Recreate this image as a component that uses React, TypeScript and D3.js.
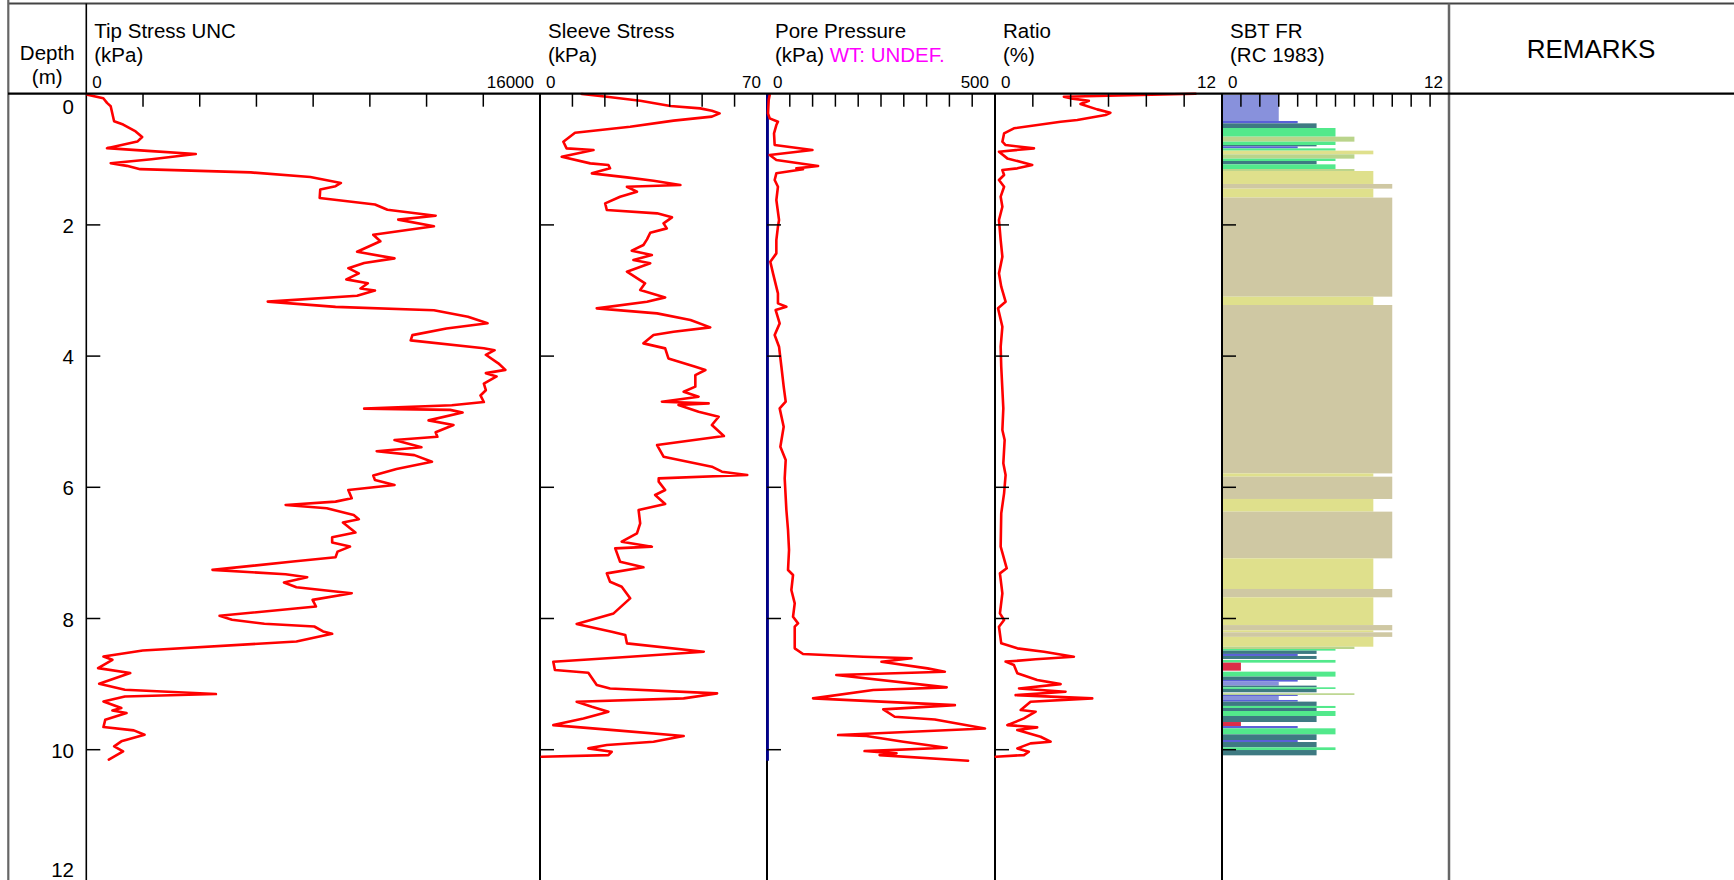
import React from "react";
import * as d3 from "d3";

// ---------- data (depth m, value) ----------
const tipStress: [number, number][] = [
  [0.015, 40], [0.07, 600], [0.14, 730], [0.19, 860], [0.42, 980], [0.47, 1300], [0.575, 1740],
  [0.66, 1970], [0.73, 1800], [0.83, 730], [0.875, 2300], [0.92, 3860], [1.0, 2300], [1.06, 860],
  [1.1, 1430], [1.15, 1900], [1.2, 5800], [1.27, 7900], [1.36, 8980], [1.41, 8790], [1.46, 8250],
  [1.59, 8230], [1.69, 10180], [1.77, 10620], [1.86, 12320], [1.92, 11000], [2.02, 12260],
  [2.15, 10120], [2.25, 10370], [2.41, 9550], [2.51, 10870], [2.58, 9800], [2.66, 9240],
  [2.74, 9610], [2.83, 9170], [2.89, 9930], [2.97, 9670], [3.0, 10180], [3.08, 9550], [3.17, 6400],
  [3.25, 8790], [3.3, 12260], [3.4, 13460], [3.5, 14150], [3.58, 12700], [3.68, 11500],
  [3.76, 11440], [3.88, 14020], [3.91, 14400], [3.98, 14090], [4.11, 14530], [4.21, 14780],
  [4.26, 14090], [4.31, 14470], [4.42, 14020], [4.52, 14090], [4.6, 13900], [4.7, 14020],
  [4.75, 12890], [4.8, 9800], [4.82, 12830], [4.86, 13270], [4.98, 12070], [5.05, 12950],
  [5.16, 12320], [5.23, 12380], [5.28, 10870], [5.39, 11820], [5.45, 10240], [5.51, 11570],
  [5.61, 12190], [5.72, 10940], [5.82, 10120], [5.89, 10180], [5.965, 10870], [6.04, 9240],
  [6.168, 9360], [6.218, 8790], [6.269, 7030], [6.32, 8480], [6.421, 9430], [6.487, 9610],
  [6.538, 9050], [6.69, 9490], [6.761, 8670], [6.843, 8670], [6.904, 9300], [6.98, 8860],
  [7.066, 8790], [7.132, 7290], [7.259, 4450], [7.325, 7030], [7.37, 7790], [7.452, 6970],
  [7.523, 7410], [7.614, 9360], [7.716, 7980], [7.817, 8100], [7.959, 4700], [8.02, 5140],
  [8.081, 6280], [8.122, 8040], [8.198, 8350], [8.234, 8670], [8.35, 7410], [8.487, 1990],
  [8.579, 605], [8.629, 920], [8.756, 416], [8.832, 1550], [8.995, 454], [9.086, 1360],
  [9.152, 4570], [9.188, 1360], [9.264, 605], [9.365, 1235], [9.401, 920], [9.442, 1420],
  [9.543, 668], [9.655, 605], [9.706, 1676], [9.772, 2054], [9.873, 1235], [9.949, 983],
  [10.025, 1298], [10.152, 794],
];

const sleeveStress: [number, number][] = [
  [0.005, 12.9], [0.046, 20.6], [0.107, 30.9], [0.188, 40.2], [0.224, 49.4], [0.259, 53],
  [0.3, 55.4], [0.35, 53], [0.41, 41.2], [0.503, 27.8], [0.595, 10.8], [0.732, 7.2], [0.833, 8.2],
  [0.859, 16.5], [0.96, 6.7], [1.062, 15.5], [1.087, 21.1], [1.138, 21.6], [1.214, 16],
  [1.275, 26.8], [1.326, 35], [1.392, 43.3], [1.418, 26.8], [1.494, 29.9], [1.57, 24.7],
  [1.672, 20.1], [1.773, 20.6], [1.824, 36.1], [1.885, 40.7], [1.977, 38.1], [2.053, 39.1],
  [2.119, 34], [2.22, 33], [2.307, 31.9], [2.393, 28.3], [2.459, 34.5], [2.535, 28.8],
  [2.586, 34], [2.713, 26.8], [2.891, 32.4], [2.993, 30.9], [3.105, 38.6], [3.171, 33],
  [3.272, 17.5], [3.349, 36.1], [3.45, 46.4], [3.562, 52.5], [3.628, 41.2], [3.679, 35],
  [3.806, 31.9], [3.882, 38.6], [4.035, 39.6], [4.162, 47.9], [4.212, 51], [4.289, 47.9],
  [4.466, 47.9], [4.543, 44.3], [4.619, 48.9], [4.695, 37.6], [4.72, 52], [4.746, 42.7],
  [4.848, 48.9], [4.924, 55.1], [5.051, 53], [5.219, 56.7], [5.356, 36.1], [5.534, 38.1],
  [5.686, 53], [5.762, 56.1], [5.813, 63.9], [5.864, 36.6], [5.914, 36.6], [6.041, 38.6],
  [6.117, 35.5], [6.254, 38.6], [6.346, 30.4], [6.549, 30.9], [6.702, 29.9], [6.829, 25.2],
  [6.905, 34.5], [6.931, 23.2], [7.134, 24.7], [7.22, 31.9], [7.312, 20.6], [7.439, 21.6],
  [7.515, 25.2], [7.693, 27.8], [7.922, 22.7], [8.084, 11.3], [8.201, 22.1], [8.252, 26.3],
  [8.379, 26.8], [8.506, 50.5], [8.582, 27.8], [8.659, 4.1], [8.786, 4.6], [8.827, 14.9],
  [9.015, 17.5], [9.066, 21.6], [9.142, 54.6], [9.218, 44.3], [9.269, 11.3], [9.345, 16],
  [9.421, 21.1], [9.523, 13.4], [9.625, 4.1], [9.701, 22.7], [9.792, 44.3], [9.879, 35],
  [9.929, 20.6], [9.98, 14.9], [10.031, 22.1], [10.082, 21.1], [10.107, 0.5],
];

const porePressure: [number, number][] = [
  [0.02, 5.9], [0.097, 3.7], [0.3, 2.2], [0.376, 5.9], [0.427, 24], [0.478, 20.5], [0.605, 15.4],
  [0.782, 16.8], [0.859, 99.6], [0.935, 5.9], [1.011, 20.5], [1.103, 112], [1.138, 64.4],
  [1.153, 79], [1.214, 20.5], [1.316, 16.8], [1.418, 24], [1.621, 20.5], [1.926, 26.4],
  [2.027, 24], [2.231, 20.5], [2.434, 20.5], [2.561, 7.3], [2.739, 13.2], [3.044, 24],
  [3.196, 24], [3.247, 42.5], [3.298, 19], [3.501, 27.8], [3.679, 16.8], [3.857, 26.4],
  [4.162, 31.6], [4.466, 36.6], [4.695, 41], [4.797, 27.8], [5.076, 36.6], [5.381, 29.3],
  [5.584, 41], [5.864, 38.8], [6.346, 42.5], [6.651, 46.1], [6.956, 48.3], [7.261, 46.1],
  [7.337, 57.1], [7.566, 53.4], [7.769, 60.8], [7.972, 57.1], [8.074, 68.1], [8.125, 60.8],
  [8.455, 60.8], [8.541, 79], [8.582, 211], [8.607, 317], [8.659, 251], [8.76, 352],
  [8.811, 390], [8.862, 152], [9.05, 394], [9.09, 233], [9.218, 101], [9.32, 412], [9.386, 255],
  [9.498, 280], [9.539, 368], [9.676, 478], [9.777, 156], [9.79, 218], [9.879, 299], [9.97, 394],
  [10.021, 214], [10.056, 284], [10.082, 247], [10.168, 441],
];

const frictionRatio: [number, number][] = [
  [0.0, 10.6], [0.046, 3.64], [0.071, 4.0], [0.107, 4.96], [0.158, 4.52], [0.239, 5.4],
  [0.29, 6.1], [0.325, 5.84], [0.401, 4.35], [0.427, 3.47], [0.528, 1.0], [0.605, 0.48],
  [0.732, 0.39], [0.783, 0.56], [0.833, 2.06], [0.884, 0.21], [0.986, 0.65], [1.087, 1.97],
  [1.138, 1.18], [1.164, 0.39], [1.24, 0.48], [1.316, 0.21], [1.418, 0.48], [1.57, 0.3],
  [1.723, 0.39], [1.926, 0.21], [2.231, 0.3], [2.485, 0.39], [2.739, 0.21], [2.942, 0.33],
  [3.171, 0.56], [3.272, 0.16], [3.552, 0.39], [3.857, 0.3], [4.162, 0.33], [4.797, 0.44],
  [5.127, 0.39], [5.279, 0.51], [5.635, 0.44], [5.813, 0.56], [6.092, 0.48], [6.397, 0.33],
  [6.905, 0.3], [7.235, 0.62], [7.312, 0.26], [7.617, 0.39], [7.922, 0.26], [8.023, 0.48],
  [8.125, 0.21], [8.379, 0.33], [8.455, 1.18], [8.506, 2.59], [8.582, 4.17], [8.622, 2.15],
  [8.658, 0.56], [8.709, 1.0], [8.836, 1.18], [8.938, 2.23], [9.0, 3.47], [9.066, 1.27],
  [9.117, 3.73], [9.168, 1.09], [9.218, 5.14], [9.269, 1.88], [9.396, 1.36], [9.421, 2.15],
  [9.523, 1.53], [9.625, 0.65], [9.66, 2.23], [9.701, 1.18], [9.803, 2.41], [9.879, 2.94],
  [9.904, 1.88], [9.98, 1.18], [10.031, 1.79], [10.082, 1.53], [10.107, 0.04],
];

// SBT intervals: [top, bottom, zone]
const sbtLayers: [number, number, number][] = [
  [0.02, 0.416, 3], [0.416, 0.452, 4], [0.452, 0.523, 5], [0.523, 0.655, 6], [0.655, 0.731, 7],
  [0.731, 0.782, 6], [0.782, 0.803, 5], [0.803, 0.833, 4], [0.833, 0.868, 6], [0.868, 0.924, 8],
  [0.924, 0.99, 7], [0.99, 1.026, 6], [1.026, 1.077, 5], [1.077, 1.148, 6], [1.148, 1.178, 7],
  [1.178, 1.376, 8], [1.376, 1.447, 9], [1.447, 1.584, 8], [1.584, 3.094, 9], [3.094, 3.221, 8],
  [3.221, 5.788, 9], [5.788, 5.838, 8], [5.838, 6.178, 9], [6.178, 6.371, 8], [6.371, 7.083, 9],
  [7.083, 7.55, 8], [7.55, 7.677, 9], [7.677, 8.1, 8], [8.1, 8.18, 9], [8.18, 8.21, 8],
  [8.21, 8.28, 9], [8.28, 8.43, 8], [8.43, 8.465, 7], [8.465, 8.49, 6], [8.49, 8.54, 5],
  [8.54, 8.571, 4], [8.571, 8.617, 5], [8.632, 8.673, 6], [8.673, 8.795, 1], [8.81, 8.886, 6],
  [8.886, 8.937, 5], [8.937, 8.962, 4], [8.962, 9.023, 3], [9.023, 9.049, 5], [9.049, 9.074, 6],
  [9.074, 9.125, 5], [9.14, 9.165, 7], [9.165, 9.181, 4], [9.181, 9.242, 3], [9.242, 9.267, 4],
  [9.267, 9.333, 5], [9.333, 9.364, 6], [9.364, 9.41, 5], [9.41, 9.486, 6], [9.486, 9.578, 5],
  [9.578, 9.639, 1], [9.639, 9.674, 4], [9.674, 9.766, 6], [9.766, 9.852, 5], [9.852, 9.883, 4],
  [9.883, 9.964, 5], [9.964, 10.005, 6], [10.005, 10.086, 5],
];

const sbtZoneColors: Record<number, string> = {
  1: "#dc2d48", 2: "#a0522d", 3: "#8891dc", 4: "#5a60d8", 5: "#3e7a82",
  6: "#52e98b", 7: "#bad48b", 8: "#dfe08c", 9: "#cfc8a3", 10: "#e8e8c8", 11: "#c0c0c0", 12: "#d0a070",
};

const depthTicks = [0, 2, 4, 6, 8, 10, 12];
const hydrostaticDepth = [0, 10.17];

const panels = [
  { key: "tip", x0: 86.3, x1: 540, max: 16000, n: 8, t1: "Tip Stress UNC", t2: "(kPa)", maxLabel: "16000" },
  { key: "sleeve", x0: 540, x1: 767, max: 70, n: 7, t1: "Sleeve Stress", t2: "(kPa)", maxLabel: "70" },
  { key: "pore", x0: 767, x1: 995, max: 500, n: 10, t1: "Pore Pressure", t2: "(kPa)", maxLabel: "500" },
  { key: "ratio", x0: 995, x1: 1222, max: 12, n: 6, t1: "Ratio", t2: "(%)", maxLabel: "12" },
  { key: "sbt", x0: 1222, x1: 1449, max: 12, n: 12, t1: "SBT FR", t2: "(RC 1983)", maxLabel: "12" },
];

const W = 1734;
const H = 880;
const TOP = 93.7;
const PX_PER_M = 65.6;
const FONT = "'Liberation Sans', Arial, Helvetica, sans-serif";

export default function App() {
  const y = d3.scaleLinear().domain([0, 12]).range([TOP, TOP + 12 * PX_PER_M]);
  const sx: Record<string, d3.ScaleLinear<number, number>> = {};
  panels.forEach((p) => {
    sx[p.key] = d3.scaleLinear().domain([0, p.max]).range([p.x0, p.x1]);
  });
  const mkLine = (key: string) =>
    d3.line<[number, number]>().x((d) => sx[key](d[1])).y((d) => y(d[0]));

  const series: [string, [number, number][]][] = [
    ["tip", tipStress],
    ["sleeve", sleeveStress],
    ["pore", porePressure],
    ["ratio", frictionRatio],
  ];

  return (
    <div style={{ position: "absolute", left: 0, top: 0, width: W, height: H, overflow: "hidden", background: "#fff" }}>
      <svg width={W} height={H} style={{ display: "block" }} fontFamily={FONT}>
        <rect x={0} y={0} width={W} height={H} fill="#fff" />
        {/* SBT bars */}
        <g>
          {sbtLayers.map((l, i) => (
            <rect
              key={i}
              x={sx.sbt(0)}
              y={y(l[0])}
              width={sx.sbt(l[2]) - sx.sbt(0)}
              height={Math.max(0.8, y(l[1]) - y(l[0]))}
              fill={sbtZoneColors[l[2]]}
            />
          ))}
        </g>
        {/* frame */}
        <line x1={8} x2={W} y1={3.5} y2={3.5} stroke="#444" strokeWidth={2} />
        <line x1={8.3} x2={8.3} y1={0} y2={H} stroke="#666" strokeWidth={2.2} />
        <line x1={86.3} x2={86.3} y1={3.5} y2={H} stroke="#000" strokeWidth={1.6} />
        {panels.slice(1).map((p) => (
          <line key={p.key} x1={p.x0} x2={p.x0} y1={TOP} y2={H} stroke="#000" strokeWidth={2} />
        ))}
        <line x1={1449} x2={1449} y1={3.5} y2={H} stroke="#666" strokeWidth={2.5} />
        {/* hydrostatic line */}
        <line x1={sx.pore(0) + 0.5} x2={sx.pore(0) + 0.5} y1={y(hydrostaticDepth[0])} y2={y(hydrostaticDepth[1])} stroke="#00008b" strokeWidth={2.8} />
        {/* curves */}
        {series.map(([k, data]) => (
          <path key={k} d={mkLine(k)(data) || ""} fill="none" stroke="#ff0000" strokeWidth={2.6} strokeLinejoin="round" strokeLinecap="round" />
        ))}
        {/* panel ticks */}
        {panels.map((p) => {
          const s = sx[p.key];
          const ticks = d3.range(1, p.n).map((i) => (p.max / p.n) * i);
          return (
            <g key={p.key}>
              {ticks.map((t, i) => (
                <line key={i} x1={s(t)} x2={s(t)} y1={TOP} y2={TOP + 13} stroke="#000" strokeWidth={1.5} />
              ))}
              {depthTicks.filter((d) => d > 0 && d < 12).map((d) => (
                <line key={"d" + d} x1={p.x0} x2={p.x0 + 14} y1={y(d)} y2={y(d)} stroke="#000" strokeWidth={1.5} />
              ))}
              <text x={p.x0 + 8} y={38} fontSize={20.5}>{p.t1}</text>
              <text x={p.x0 + 8} y={61.5} fontSize={20.5}>
                {p.t2}
                {p.key === "pore" ? <tspan fill="#ff00ff">{" WT: UNDEF."}</tspan> : null}
              </text>
              <text x={p.x0 + 6} y={87.5} fontSize={17}>0</text>
              <text x={p.x1 - 6} y={87.5} fontSize={17} textAnchor="end">{p.maxLabel}</text>
            </g>
          );
        })}
        <line x1={8} x2={W} y1={TOP} y2={TOP} stroke="#000" strokeWidth={2.2} />
        {/* depth axis labels */}
        {depthTicks.map((d) => (
          <text key={d} x={74} y={Math.min(877, Math.max(114, y(d) + 8))} fontSize={20.5} textAnchor="end">{d}</text>
        ))}
        <text x={47.2} y={59.5} fontSize={20.5} textAnchor="middle">Depth</text>
        <text x={47.2} y={84} fontSize={20.5} textAnchor="middle">(m)</text>
        <text x={1591} y={58} fontSize={26} textAnchor="middle">REMARKS</text>
      </svg>
    </div>
  );
}
